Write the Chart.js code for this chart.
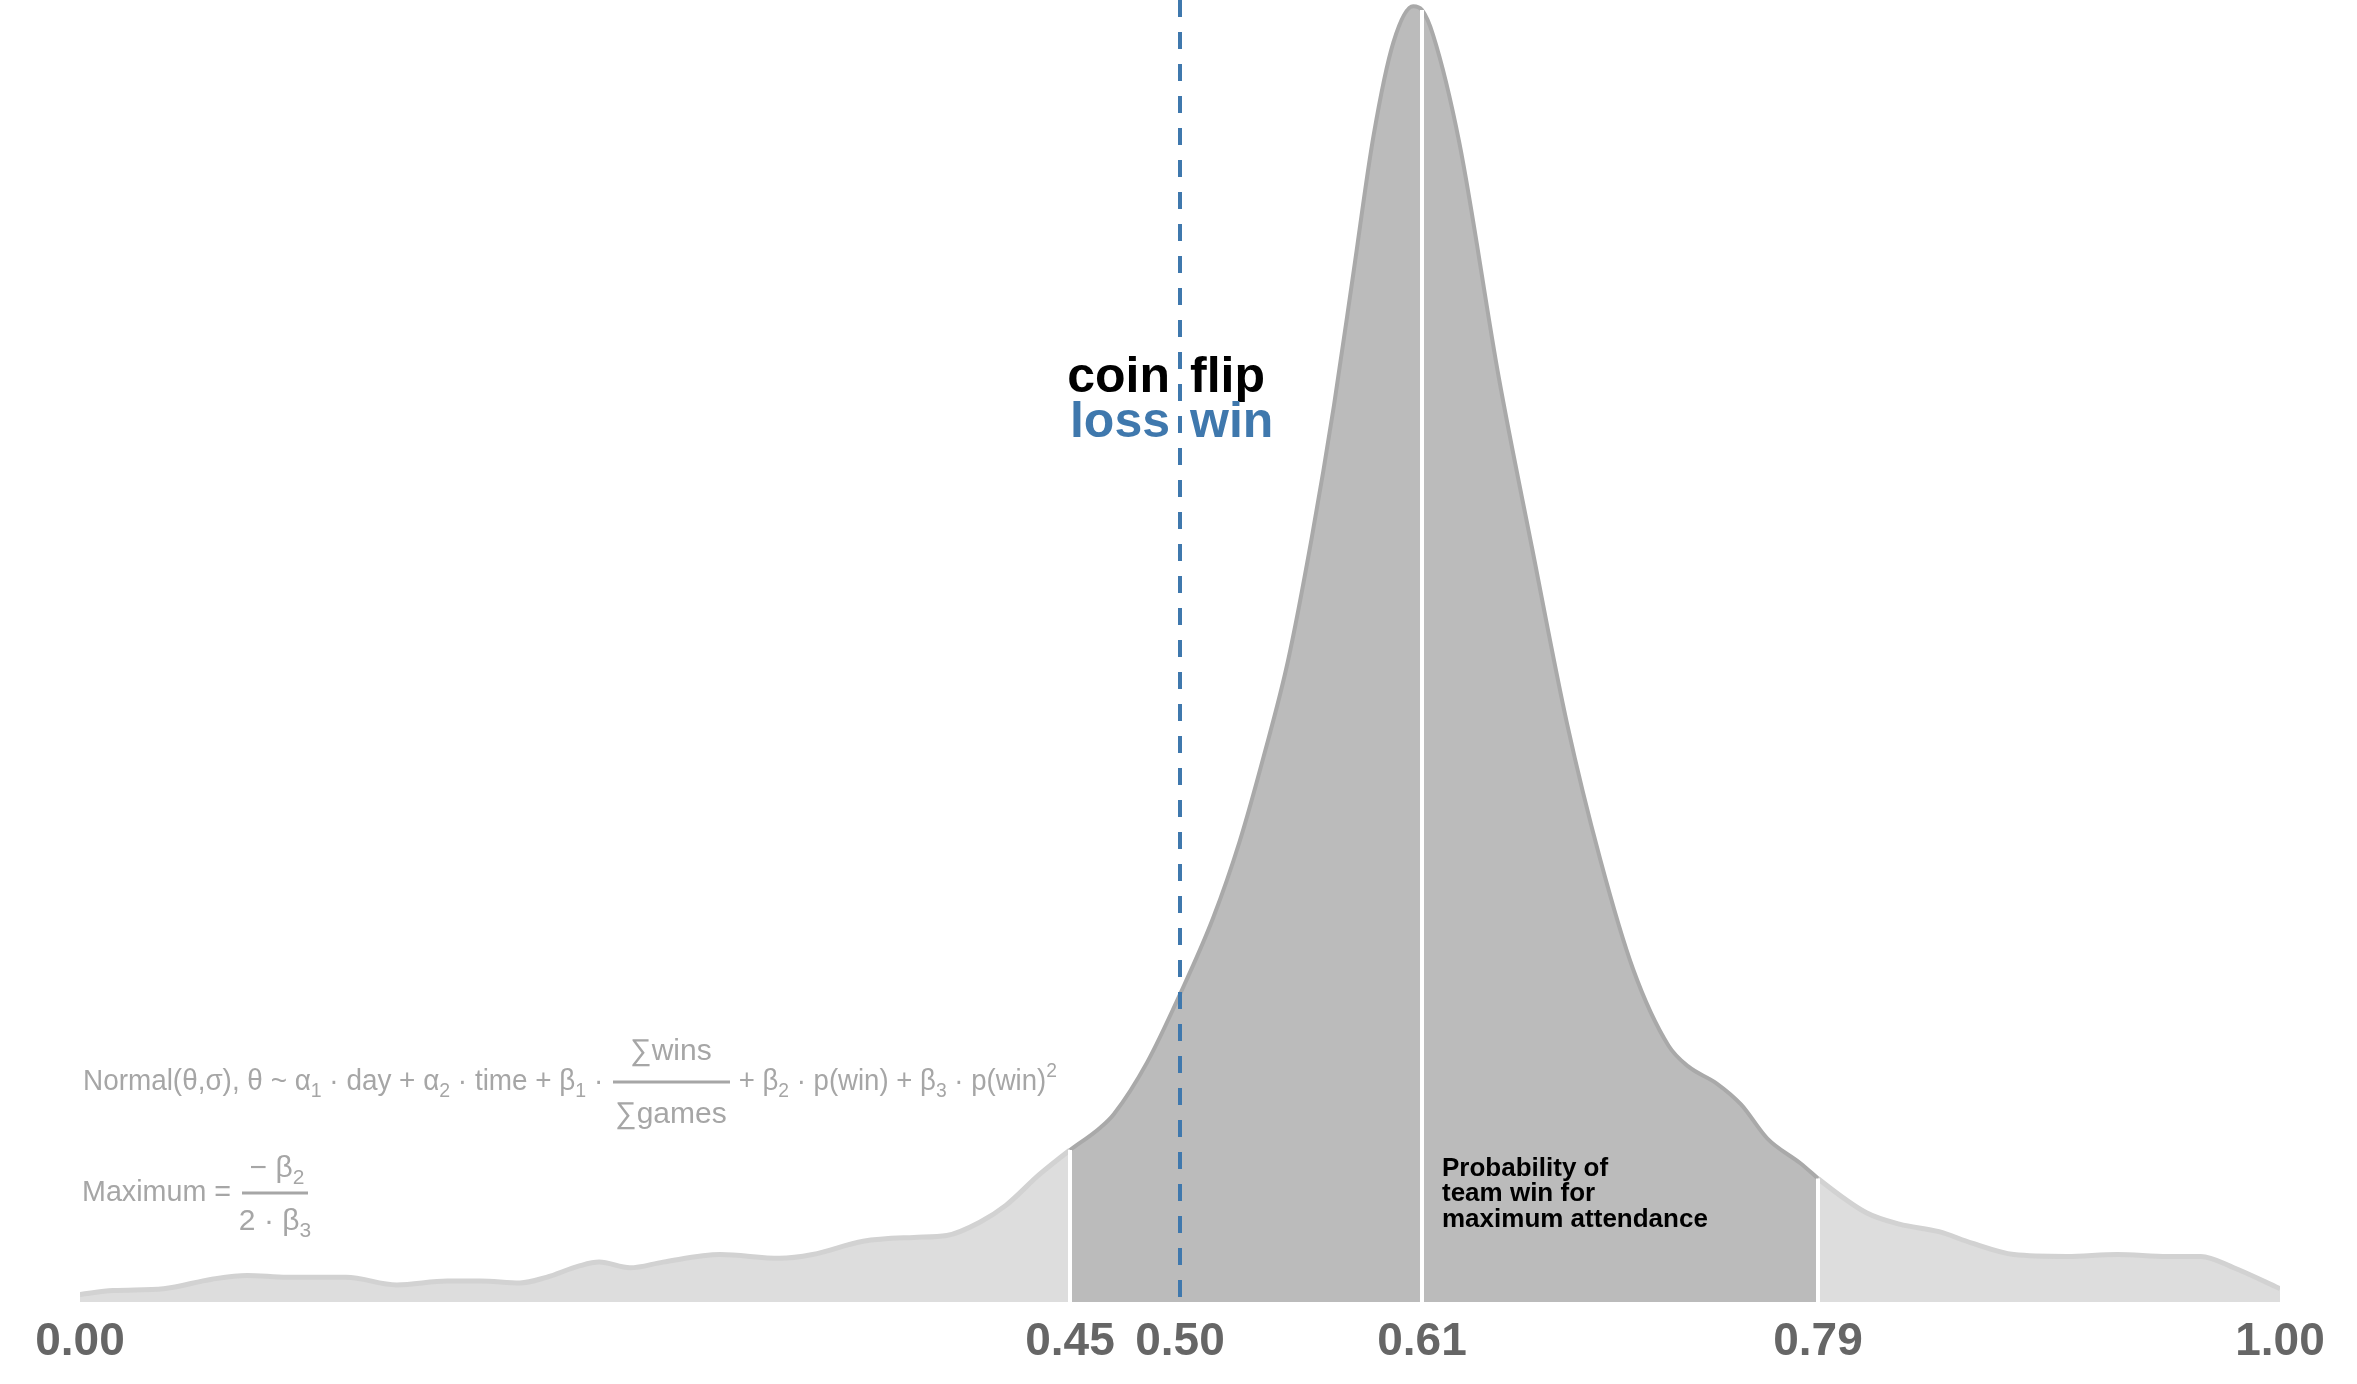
<!DOCTYPE html>
<html>
<head>
<meta charset="utf-8">
<script src="https://cdn.jsdelivr.net/npm/chart.js@4.4.1/dist/chart.umd.min.js"></script>
<style>
  html, body { margin: 0; padding: 0; background: #ffffff; }
  #wrap { width: 2357px; height: 1384px; position: relative; }
</style>
</head>
<body>
<div id="wrap"><canvas id="chart"></canvas></div>
<script>
// Posterior density of the win probability that maximises attendance
const winProb = [
  0.000, 0.015, 0.038, 0.060, 0.076, 0.094, 0.121, 0.144, 0.167, 0.182,
  0.200, 0.212, 0.227, 0.236, 0.250, 0.265, 0.291, 0.318, 0.333, 0.356,
  0.379, 0.394, 0.409, 0.421, 0.436, 0.450, 0.464, 0.470, 0.485, 0.500,
  0.515, 0.527, 0.538, 0.549, 0.560, 0.570, 0.579, 0.588, 0.597, 0.606,
  0.610, 0.615, 0.627, 0.645, 0.660, 0.676, 0.691, 0.706, 0.722, 0.731,
  0.744, 0.755, 0.767, 0.782, 0.790, 0.812, 0.827, 0.845, 0.860, 0.879,
  0.903, 0.926, 0.949, 0.964, 0.979, 1.000
];
const density = [
  0.04, 0.06, 0.07, 0.12, 0.14, 0.13, 0.13, 0.09, 0.11, 0.11,
  0.10, 0.13, 0.19, 0.21, 0.18, 0.21, 0.25, 0.23, 0.25, 0.32,
  0.34, 0.35, 0.42, 0.51, 0.67, 0.80, 0.92, 0.99, 1.26, 1.62,
  2.02, 2.42, 2.87, 3.37, 4.03, 4.72, 5.43, 6.14, 6.63, 6.82,
  6.80, 6.67, 6.10, 4.86, 3.97, 3.04, 2.33, 1.75, 1.35, 1.24,
  1.15, 1.04, 0.86, 0.73, 0.65, 0.47, 0.41, 0.37, 0.31, 0.25,
  0.24, 0.25, 0.24, 0.24, 0.18, 0.07
];
const tickValues = [0.00, 0.45, 0.50, 0.61, 0.79, 1.00];
const intervalLow = 0.45;
const intervalHigh = 0.79;
const optimum = 0.61;
const coinFlip = 0.50;
const densityMax = 6.853;

const points = winProb.map((x, i) => ({ x: x, y: density[i] }));
const intervalPoints = points.filter(p => p.x >= intervalLow - 1e-9 && p.x <= intervalHigh + 1e-9);

function densityAt(v) {
  const i = winProb.findIndex(x => Math.abs(x - v) < 1e-9);
  return density[i];
}

const FONT = '"Liberation Sans", Helvetica, Arial, sans-serif';
const MATH_GREY = '#a6a6a6';

// runs of [text, kind] where kind is undefined, 'sub' or 'sup'
function runWidth(ctx, parts, size) {
  let w = 0;
  for (const [t, k] of parts) {
    ctx.font = (k ? Math.round(size * 0.7) : size) + 'px ' + FONT;
    w += ctx.measureText(t).width;
  }
  return w;
}
function drawRun(ctx, parts, x, y, size, targetWidth) {
  const natural = runWidth(ctx, parts, size);
  const sx = targetWidth ? targetWidth / natural : 1;
  ctx.save();
  ctx.translate(x, y);
  ctx.scale(sx, 1);
  let cx = 0;
  for (const [t, k] of parts) {
    const s = k ? Math.round(size * 0.7) : size;
    ctx.font = s + 'px ' + FONT;
    const dy = k === 'sub' ? size * 0.24 : (k === 'sup' ? -size * 0.42 : 0);
    ctx.fillText(t, cx, dy);
    cx += ctx.measureText(t).width;
  }
  ctx.restore();
  return natural * sx;
}
function drawCentered(ctx, parts, cx, y, size) {
  const w = runWidth(ctx, parts, size);
  drawRun(ctx, parts, cx - w / 2, y, size);
}

const markerPlugin = {
  id: 'markers',
  afterDatasetsDraw(chart) {
    const ctx = chart.ctx;
    const xs = chart.scales.x, ys = chart.scales.y;
    const base = ys.getPixelForValue(0);
    ctx.save();
    // white separators at the interval bounds and at the optimum
    ctx.strokeStyle = '#ffffff';
    ctx.lineWidth = 4;
    for (const v of [intervalLow, optimum, intervalHigh]) {
      const px = Math.round(xs.getPixelForValue(v));
      ctx.beginPath();
      ctx.moveTo(px, base);
      ctx.lineTo(px, ys.getPixelForValue(densityAt(v)));
      ctx.stroke();
    }
    // coin-flip reference line
    const cxp = Math.round(xs.getPixelForValue(coinFlip));
    ctx.strokeStyle = '#3f78ad';
    ctx.lineWidth = 4;
    ctx.setLineDash([17, 15]);
    ctx.beginPath();
    ctx.moveTo(cxp, chart.chartArea.top);
    ctx.lineTo(cxp, base);
    ctx.stroke();
    ctx.restore();
  },
  afterDraw(chart) {
    const ctx = chart.ctx;
    const xs = chart.scales.x;
    const left = chart.chartArea.left;
    ctx.save();
    ctx.textBaseline = 'alphabetic';

    // coin flip / loss | win
    const cxp = xs.getPixelForValue(coinFlip);
    ctx.font = 'bold 50px ' + FONT;
    ctx.fillStyle = '#000000';
    ctx.textAlign = 'right';
    ctx.fillText('coin', cxp - 10, 392);
    ctx.textAlign = 'left';
    ctx.fillText('flip', cxp + 10, 392);
    ctx.fillStyle = '#3f78ad';
    ctx.textAlign = 'right';
    ctx.fillText('loss', cxp - 10, 437);
    ctx.textAlign = 'left';
    ctx.fillText('win', cxp + 10, 437);

    // optimum caption
    const ox = xs.getPixelForValue(optimum) + 20;
    ctx.font = 'bold 26px ' + FONT;
    ctx.fillStyle = '#000000';
    ctx.fillText('Probability of', ox, 1176);
    ctx.fillText('team win for', ox, 1201);
    ctx.fillText('maximum attendance', ox, 1227);

    // model formula
    ctx.fillStyle = MATH_GREY;
    ctx.strokeStyle = MATH_GREY;
    ctx.textAlign = 'left';
    const fx = left + 3;
    const pre = [['Normal(θ,σ), θ ~ α'], ['1', 'sub'], [' · day + α'], ['2', 'sub'],
                 [' · time + β'], ['1', 'sub'], [' · ']];
    drawRun(ctx, pre, fx, 1090, 30, 528);
    // fraction: sum wins over sum games
    ctx.lineWidth = 3;
    ctx.beginPath();
    ctx.moveTo(613, 1082); ctx.lineTo(730, 1082);
    ctx.stroke();
    drawCentered(ctx, [['∑wins']], 671, 1060, 30);
    drawCentered(ctx, [['∑games']], 671, 1123, 30);
    const post = [[' + β'], ['2', 'sub'], [' · p(win) + β'], ['3', 'sub'], [' · p(win)'], ['2', 'sup']];
    drawRun(ctx, post, 731, 1090, 30, 326);

    // location of the maximum
    drawRun(ctx, [['Maximum = ']], fx - 1, 1201, 30, 157);
    ctx.beginPath();
    ctx.moveTo(242, 1193); ctx.lineTo(308, 1193);
    ctx.stroke();
    drawCentered(ctx, [['− β'], ['2', 'sub']], 277, 1177, 30);
    drawCentered(ctx, [['2 · β'], ['3', 'sub']], 275, 1230, 30);
    ctx.restore();
  }
};

const ctx = document.getElementById('chart').getContext('2d');
new Chart(ctx, {
  type: 'line',
  data: {
    datasets: [
      {
        label: 'interval',
        data: intervalPoints,
        order: 0,
        fill: 'origin',
        backgroundColor: '#bbbbbb',
        borderColor: '#a9a9a9',
        borderWidth: 4,
        pointRadius: 0,
        cubicInterpolationMode: 'monotone'
      },
      {
        label: 'density',
        data: points,
        order: 1,
        fill: 'origin',
        backgroundColor: '#dddddd',
        borderColor: '#d2d2d2',
        borderWidth: 5,
        pointRadius: 0,
        cubicInterpolationMode: 'monotone',
        segment: {
          borderColor: c => (c.p0.parsed.x >= intervalLow - 1e-9 && c.p1.parsed.x <= intervalHigh + 1e-9) ? 'rgba(0,0,0,0)' : '#d2d2d2'
        }
      }
    ]
  },
  options: {
    responsive: true,
    maintainAspectRatio: false,
    animation: false,
    events: [],
    layout: { padding: { left: 80, right: 77, top: 0, bottom: 0 } },
    plugins: { legend: { display: false }, tooltip: { enabled: false } },
    scales: {
      x: {
        type: 'linear',
        min: 0,
        max: 1,
        grid: { display: false, drawTicks: false },
        border: { display: false },
        afterBuildTicks: scale => { scale.ticks = tickValues.map(v => ({ value: v })); },
        afterFit: scale => { scale.height = 82; },
        ticks: {
          autoSkip: false,
          maxRotation: 0,
          padding: 13,
          color: '#666666',
          font: { family: FONT, size: 46, weight: 'bold' },
          callback: v => Number(v).toFixed(2)
        }
      },
      y: {
        display: false,
        min: 0,
        max: densityMax
      }
    }
  },
  plugins: [markerPlugin]
});
</script>
</body>
</html>
